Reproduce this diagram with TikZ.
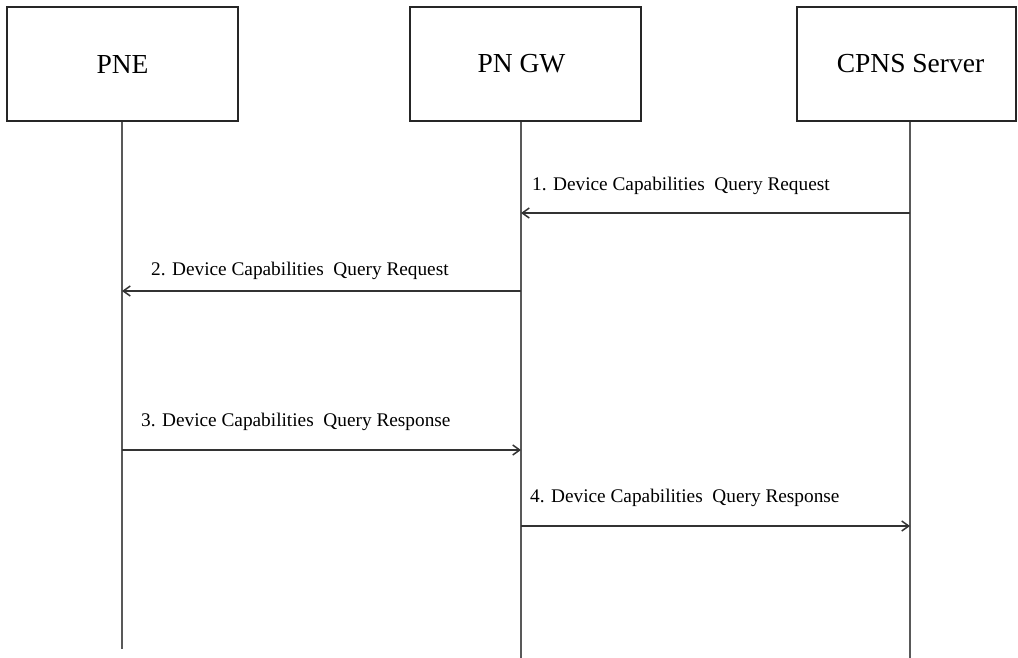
\documentclass[tikz,border=0pt]{standalone}
\usepackage{fontspec}
\setmainfont{Liberation Serif}
\usetikzlibrary{arrows.meta,positioning,calc}
\tikzset{
  seq/.style={x=1pt,y=-1pt,>={Straight Barb[length=7pt,width=10pt]},
    every node/.style={inner sep=0pt}},
  actor/.style={draw=black!85,line width=2pt,minimum height=114pt,font=\fontsize{27.5}{30}\selectfont},
  life/.style={draw=black!65,line width=1.5pt},
  msg/.style={->,draw=black!80,line width=1.5pt},
  lbl/.style={anchor=west,font=\fontsize{19.3}{22}\selectfont},
}

\begin{document}
\begin{tikzpicture}[seq]
  \useasboundingbox (0,0) rectangle (1018,657);
  % participants
  \node[actor,minimum width=231pt] (pne) at (122.5,64) {PNE};
  \node[actor,minimum width=231pt] (gw) at (525.5,64) {\hspace*{-8pt}PN GW};
  \node[actor,minimum width=219pt] (cpns) at (906.5,64) {\hspace*{8pt}CPNS Server};
  % life lines
  \coordinate (pneTop) at ([xshift=-0.5pt]pne.south);
  \coordinate (gwTop) at ([xshift=-4.5pt]gw.south);
  \coordinate (cpnsTop) at ([xshift=3.5pt]cpns.south);
  \draw[life] (pneTop) -- ++(0,527) coordinate (pneEnd);
  \draw[life] (gwTop) -- ++(0,536) coordinate (gwEnd);
  \draw[life] (cpnsTop) -- ++(0,536) coordinate (cpnsEnd);
  % messages
  \draw[msg] (cpnsTop |- 0,213) -- (gwTop |- 0,213);
  \node[lbl] (m1) at (532,186) {1. Device Capabilities\ \ Query Request};
  \draw[msg] (gwTop |- 0,291) -- (pneTop |- 0,291);
  \node[lbl] (m2) at (151,271) {2. Device Capabilities\ \ Query Request};
  \draw[msg] (pneTop |- 0,450) -- (gwTop |- 0,450);
  \node[lbl] (m3) at (141,422) {3. Device Capabilities\ \ Query Response};
  \draw[msg] (gwTop |- 0,526) -- (cpnsTop |- 0,526);
  \node[lbl] (m4) at (530,498) {4. Device Capabilities\ \ Query Response};
\end{tikzpicture}
\end{document}
